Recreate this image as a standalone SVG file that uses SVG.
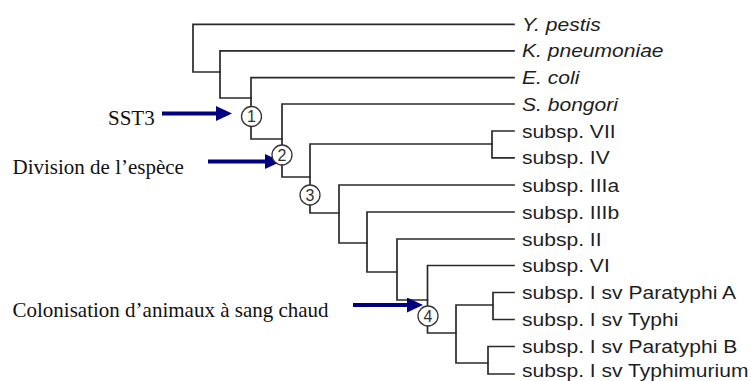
<svg xmlns="http://www.w3.org/2000/svg" width="751" height="381" viewBox="0 0 751 381">
  <style>
    .br { fill: none; stroke: #2a2a2a; stroke-width: 1.7; stroke-linecap: square; }
    .leaf { font-family: "Liberation Sans", Arial, sans-serif; font-size: 18.3px; fill: #1e1e1e; }
    .it { font-style: italic; }
    .note { font-family: "Liberation Serif", "Times New Roman", serif; font-size: 21px; fill: #111; }
    .ring { fill: #fff; stroke: #333; stroke-width: 1.3; }
    .num { font-family: "Liberation Sans", Arial, sans-serif; font-size: 16px; fill: #333; text-anchor: middle; }
    .arrow { stroke: #000080; stroke-width: 4; fill: none; }
  </style>
  <defs>
    <marker id="head" markerUnits="userSpaceOnUse" markerWidth="16" markerHeight="15" viewBox="0 0 16 15" refX="1" refY="7.5" orient="auto">
      <path d="M0,0 L16,7.5 L0,15 Z" fill="#000080"/>
    </marker>
  </defs>

  <rect width="751" height="381" fill="#fff"/>

  <!-- tree branches and annotation arrows -->
  <g id="connectors">
    <!-- root -->
    <path class="br" d="M514,24.3 H193 V72 H220"/>
    <!-- K. pneumoniae split -->
    <path class="br" d="M514,50.8 H220 V98 H251"/>
    <!-- E. coli split (node 1) -->
    <path class="br" d="M514,77.6 H251 V139 H282"/>
    <!-- S. bongori split (node 2) -->
    <path class="br" d="M514,104 H282 V177 H310"/>
    <!-- node 3 -->
    <path class="br" d="M492,144 H310 V213 H339"/>
    <!-- VII / IV -->
    <path class="br" d="M514,131 H492 V157.8 H514"/>
    <!-- IIIa -->
    <path class="br" d="M514,185 H339 V243 H367"/>
    <!-- IIIb -->
    <path class="br" d="M514,212 H367 V272 H397"/>
    <!-- II -->
    <path class="br" d="M514,239 H397 V300 H427.5"/>
    <!-- VI (node 4) -->
    <path class="br" d="M514,265.5 H427.5 V333 H456"/>
    <!-- subsp. I -->
    <path class="br" d="M493,305 H456 V363 H488"/>
    <path class="br" d="M514,292.5 H493 V319.5 H514"/>
    <path class="br" d="M514,346.5 H488 V374 H514"/>

    <!-- annotation arrows -->
    <line class="arrow" x1="162" y1="113.5" x2="217" y2="113.5" marker-end="url(#head)"/>
    <line class="arrow" x1="208" y1="161.5" x2="266" y2="161.5" marker-end="url(#head)"/>
    <line class="arrow" x1="353" y1="305" x2="408" y2="305" marker-end="url(#head)"/>
  </g>

  <!-- numbered internal nodes -->
  <g id="node-1"><circle class="ring" cx="251.5" cy="116.5" r="10"/><text class="num" x="251.5" y="122.3">1</text></g>
  <g id="node-2"><circle class="ring" cx="282" cy="155" r="10"/><text class="num" x="282" y="160.8">2</text></g>
  <g id="node-3"><circle class="ring" cx="310" cy="195" r="10"/><text class="num" x="310" y="200.8">3</text></g>
  <g id="node-4"><circle class="ring" cx="428" cy="316" r="10"/><text class="num" x="428" y="321.8">4</text></g>

  <!-- leaf labels -->
  <g id="leaf-ypestis"><text class="leaf it" transform="translate(522,30.8) scale(1.15,1)">Y. pestis</text></g>
  <g id="leaf-kpneumoniae"><text class="leaf it" transform="translate(522,57.3) scale(1.15,1)">K. pneumoniae</text></g>
  <g id="leaf-ecoli"><text class="leaf it" transform="translate(522,84.1) scale(1.15,1)">E. coli</text></g>
  <g id="leaf-sbongori"><text class="leaf it" transform="translate(522,110.5) scale(1.15,1)">S. bongori</text></g>
  <g id="leaf-vii"><text class="leaf" transform="translate(522,137.5) scale(1.15,1)">subsp. VII</text></g>
  <g id="leaf-iv"><text class="leaf" transform="translate(522,164.3) scale(1.15,1)">subsp. IV</text></g>
  <g id="leaf-iiia"><text class="leaf" transform="translate(522,191.5) scale(1.15,1)">subsp. IIIa</text></g>
  <g id="leaf-iiib"><text class="leaf" transform="translate(522,218.5) scale(1.15,1)">subsp. IIIb</text></g>
  <g id="leaf-ii"><text class="leaf" transform="translate(522,245.5) scale(1.15,1)">subsp. II</text></g>
  <g id="leaf-vi"><text class="leaf" transform="translate(522,272) scale(1.15,1)">subsp. VI</text></g>
  <g id="leaf-paratyphi-a"><text class="leaf" transform="translate(522,299) scale(1.15,1)">subsp. I sv Paratyphi A</text></g>
  <g id="leaf-typhi"><text class="leaf" transform="translate(522,326) scale(1.15,1)">subsp. I sv Typhi</text></g>
  <g id="leaf-paratyphi-b"><text class="leaf" transform="translate(522,353) scale(1.15,1)">subsp. I sv Paratyphi B</text></g>
  <g id="leaf-typhimurium"><text class="leaf" transform="translate(522,377) scale(1.15,1)">subsp. I sv Typhimurium</text></g>

  <!-- event annotations -->
  <g id="note-sst3"><text class="note" x="108" y="125">SST3</text></g>
  <g id="note-division"><text class="note" x="12.5" y="174">Division de l’espèce</text></g>
  <g id="note-colonisation"><text class="note" x="12.5" y="317">Colonisation d’animaux à sang chaud</text></g>
</svg>
